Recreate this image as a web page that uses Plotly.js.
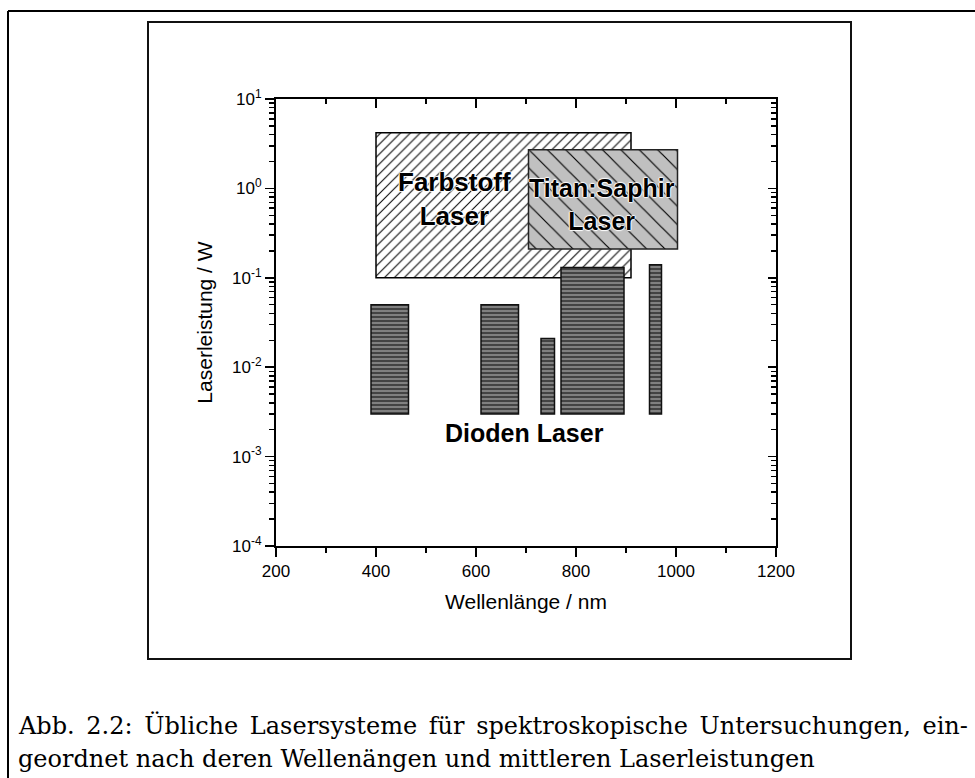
<!DOCTYPE html>
<html>
<head>
<meta charset="utf-8">
<script src="https://cdn.plot.ly/plotly-3.0.1.min.js"></script>
<style>
  html, body { margin: 0; padding: 0; background: #fff; }
  #chart { width: 975px; height: 778px; }
  /* first caption line is set justified to the full text width */
  #chart .annotation[data-index="3"] text { word-spacing: 4px; }
</style>
</head>
<body>
<div id="chart"></div>
<script>
// Wavelength ranges (nm) and average output power ranges (W) of common laser systems
const dyeRange = [400, 910];          // Farbstoff Laser
const dyePower = [0.1, 4.2];
const tisaRange = [705, 1003];        // Titan:Saphir Laser
const tisaPower = [0.21, 2.7];

// Diode lasers: one entry per emission band
const diodeLow   = [390, 610, 730, 770, 947];
const diodeHigh  = [465, 685, 757, 896, 971];
const diodePmin  = [0.003, 0.003, 0.003, 0.003, 0.003];
const diodePmax  = [0.05, 0.05, 0.021, 0.13, 0.14];

// Axis ticks
const xTicks = [200, 400, 600, 800, 1000, 1200];
const yTickVals = [1e-4, 1e-3, 1e-2, 1e-1, 1, 10];
const yTickText = ['10<sup>-4</sup>', '10<sup>-3</sup>', '10<sup>-2</sup>',
                   '10<sup>-1</sup>', '10<sup>0</sup>', '10<sup>1</sup>'];

const caption1 = 'Abb. 2.2: Übliche Lasersysteme für spektroskopische Untersuchungen, ein-';
const caption2 = 'geordnet nach deren Wellenängen und mittleren Laserleistungen';

// floating bars: centre, width, base and height from the range arrays
function rangeBar(lo, hi, pmin, pmax) {
  return {
    x: lo.map((v, i) => (v + hi[i]) / 2),
    width: lo.map((v, i) => hi[i] - v),
    base: pmin.slice(),
    y: pmin.map((v, i) => pmax[i] - v)
  };
}

const dye = rangeBar([dyeRange[0]], [dyeRange[1]], [dyePower[0]], [dyePower[1]]);
const tisa = rangeBar([tisaRange[0]], [tisaRange[1]], [tisaPower[0]], [tisaPower[1]]);
const diode = rangeBar(diodeLow, diodeHigh, diodePmin, diodePmax);

const traces = [
  Object.assign({
    type: 'bar', name: 'Farbstoff Laser', hoverinfo: 'skip',
    marker: {
      color: '#ffffff',
      line: { color: '#000', width: 1.5 },
      pattern: { shape: '/', fgcolor: '#000', bgcolor: '#ffffff', size: 7, solidity: 0.15, fillmode: 'replace' }
    }
  }, dye),
  Object.assign({
    type: 'bar', name: 'Titan:Saphir Laser', hoverinfo: 'skip',
    marker: {
      color: '#c0c0c0',
      line: { color: '#222', width: 1.5 },
      pattern: { shape: '\\', fgcolor: '#000', bgcolor: '#c0c0c0', size: 13, solidity: 0.09, fillmode: 'replace' }
    }
  }, tisa),
  Object.assign({
    type: 'bar', name: 'Dioden Laser', hoverinfo: 'skip',
    marker: {
      color: '#7a7a7a',
      line: { color: '#111', width: 1.5 },
      pattern: { shape: '-', fgcolor: '#1a1a1a', bgcolor: '#808080', size: 4, solidity: 0.3, fillmode: 'replace' }
    }
  }, diode),
  // empty trace that carries the mirrored top/right axes
  { type: 'scatter', x: [], y: [], xaxis: 'x2', yaxis: 'y2', showlegend: false, hoverinfo: 'skip' }
];

// plot area in pixels
const L = 276, R = 776, T = 99, B = 546, W = 975, H = 778;
const px = v => (v - L) / (R - L);
const py = v => (B - v) / (B - T);

const yMinor = [];
for (let e = -4; e < 1; e++) for (let m = 2; m <= 9; m++) yMinor.push(m * Math.pow(10, e));

const axisFont = { family: 'Liberation Sans, Arial, sans-serif', size: 17, color: '#000' };
const labelShadow = '1px 0 1px #fff, -1px 0 1px #fff, 0 1px 1px #fff, 0 -1px 1px #fff';
const labelFont = { family: 'Liberation Sans, Arial, sans-serif', size: 25, color: '#000', weight: 'bold', shadow: labelShadow };
const capFont = { family: 'DejaVu Serif, serif', size: 24, color: '#000' };

const layout = {
  width: W, height: H,
  margin: { l: L, r: W - R, t: T, b: H - B, autoexpand: false },
  paper_bgcolor: '#fff', plot_bgcolor: '#fff',
  showlegend: false,
  barmode: 'overlay',
  xaxis: {
    range: [200, 1200], tickmode: 'array', tickvals: xTicks,
    ticks: 'outside', ticklen: 9, tickwidth: 1.5, tickcolor: '#000',
    minor: { ticks: 'outside', ticklen: 5, tickwidth: 1.5, tickcolor: '#000', tickmode: 'array', tickvals: [300, 500, 700, 900, 1100] },
    showline: true, linewidth: 2, linecolor: '#000',
    showgrid: false, zeroline: false,
    tickfont: axisFont,
    title: { text: 'Wellenlänge / nm', font: { family: axisFont.family, size: 21, color: '#000' }, standoff: 14 }
  },
  yaxis: {
    type: 'log', range: [-4, 1], tickmode: 'array', tickvals: yTickVals, ticktext: yTickText,
    ticks: 'outside', ticklen: 9, tickwidth: 1.5, tickcolor: '#000',
    minor: { ticks: 'outside', ticklen: 5, tickwidth: 1.5, tickcolor: '#000', tickmode: 'array', tickvals: yMinor },
    showline: true, linewidth: 2, linecolor: '#000',
    showgrid: false, zeroline: false,
    tickfont: axisFont,
    title: { text: 'Laserleistung / W', font: { family: axisFont.family, size: 21, color: '#000' }, standoff: 14 }
  },
  xaxis2: {
    overlaying: 'x', anchor: 'y2', side: 'top', range: [200, 1200],
    tickmode: 'array', tickvals: xTicks, showticklabels: false,
    ticks: 'inside', ticklen: 9, tickwidth: 1.5, tickcolor: '#000',
    minor: { ticks: 'inside', ticklen: 5, tickwidth: 1.5, tickcolor: '#000', tickmode: 'array', tickvals: [300, 500, 700, 900, 1100] },
    showline: true, linewidth: 2, linecolor: '#000', showgrid: false, zeroline: false
  },
  yaxis2: {
    overlaying: 'y', anchor: 'x2', side: 'right', type: 'log', range: [-4, 1],
    tickmode: 'array', tickvals: yTickVals, showticklabels: false,
    ticks: 'inside', ticklen: 8, tickwidth: 1.5, tickcolor: '#000',
    minor: { ticks: 'inside', ticklen: 5, tickwidth: 1.5, tickcolor: '#000', tickmode: 'array', tickvals: yMinor },
    showline: true, linewidth: 2, linecolor: '#000', showgrid: false, zeroline: false
  },
  annotations: [
    { xref: 'x', yref: 'y', x: 556, y: Math.log10(0.77), text: 'Farbstoff<br>Laser', showarrow: false,
      font: Object.assign({}, labelFont, { size: 26 }), align: 'center' },
    { xref: 'x', yref: 'y', x: 852, y: Math.log10(0.66), text: 'Titan:Saphir<br>Laser', showarrow: false,
      font: labelFont, align: 'center' },
    { xref: 'x', yref: 'y', x: 697, y: Math.log10(0.00184), text: 'Dioden Laser', showarrow: false,
      font: labelFont },
    { xref: 'paper', yref: 'paper', x: px(16), y: py(725), xanchor: 'left', yanchor: 'middle', align: 'left',
      text: caption1, showarrow: false, font: capFont },
    { xref: 'paper', yref: 'paper', x: px(16), y: py(759), xanchor: 'left', yanchor: 'middle', align: 'left',
      text: caption2, showarrow: false, font: capFont }
  ],
  shapes: [
    // page frame (top and left rules)
    { type: 'line', xref: 'paper', yref: 'paper', x0: px(8), x1: px(975), y0: py(11), y1: py(11),
      line: { color: '#000', width: 2 } },
    { type: 'line', xref: 'paper', yref: 'paper', x0: px(8), x1: px(8), y0: py(11), y1: py(778),
      line: { color: '#000', width: 2 } },
    // figure box
    { type: 'rect', xref: 'paper', yref: 'paper', x0: px(148), x1: px(851), y0: py(22), y1: py(659),
      line: { color: '#111', width: 2 } }
  ]
};

Plotly.newPlot('chart', traces, layout, { staticPlot: true, displayModeBar: false });
</script>
</body>
</html>
